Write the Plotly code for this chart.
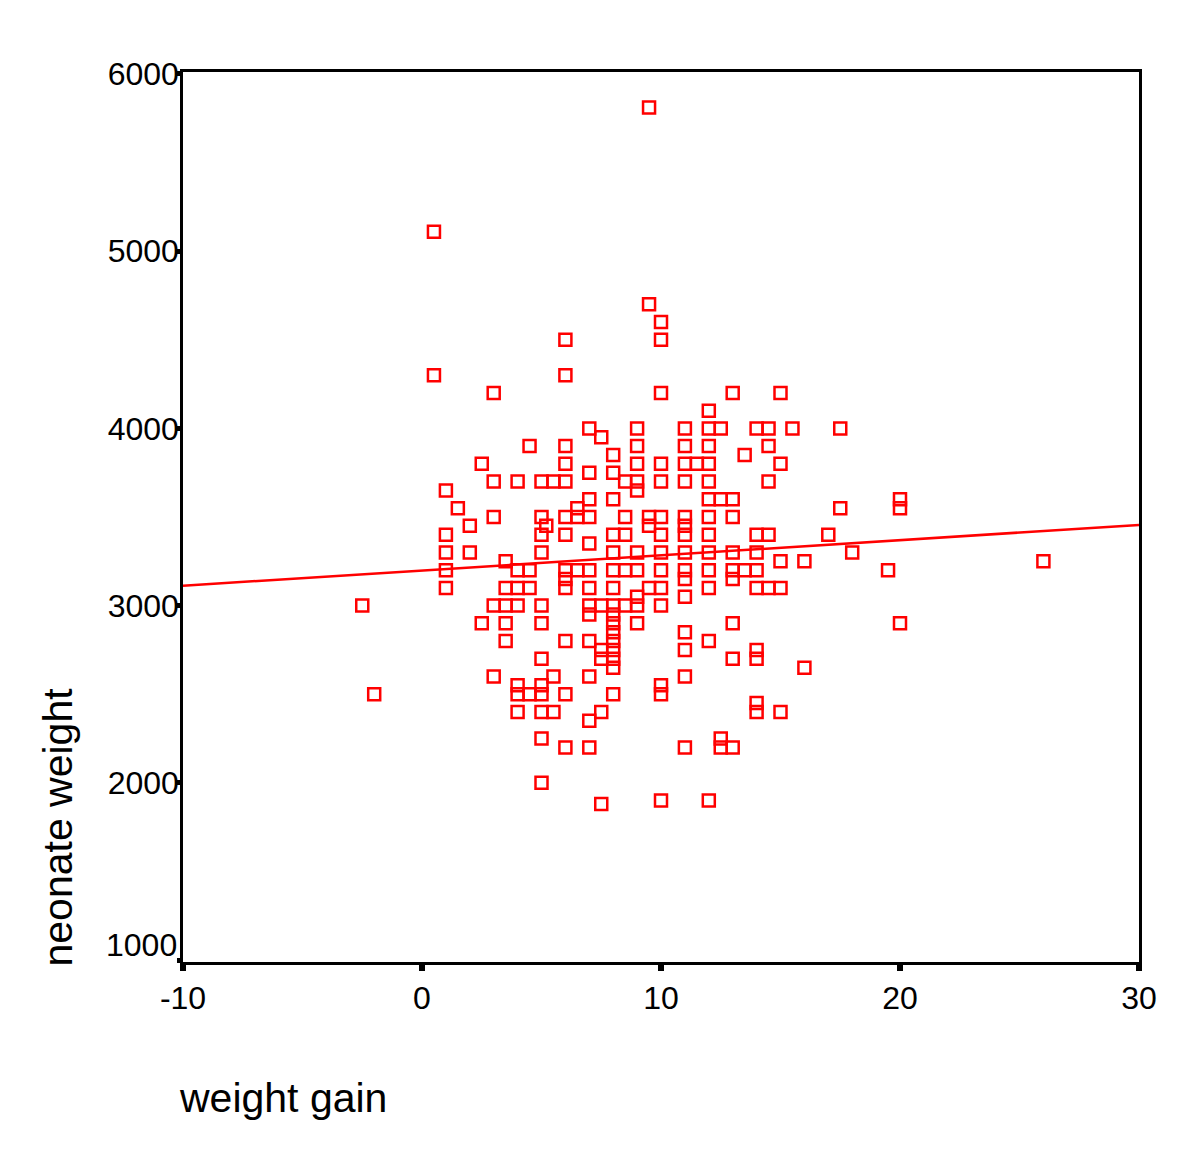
import plotly.graph_objects as go

# weight gain (x) and neonate weight (y)
weight_gain = (
    [-2.5, -2, 0.5, 0.5, 26]
    + [1] * 5 + [1.5] + [2] * 2 + [2.5] * 2
    + [3] * 5 + [3.5] * 5 + [4] * 7 + [4.5] * 4
    + [5] * 12 + [5.2] + [5.5] * 3
    + [6] * 13 + [6.5] * 3 + [7] * 13 + [7.5] * 6
    + [8] * 16 + [8.5] * 5 + [9] * 10 + [9.5] * 5
    + [10] * 14 + [11] * 15 + [11.5] + [12] * 13 + [12.5] * 4
    + [13] * 9 + [13.5] * 2 + [14] * 9 + [14.5] * 5 + [15] * 5
    + [15.5] + [16] * 2 + [17] + [17.5] * 2 + [18] + [19.5] + [20] * 3
)
neonate_weight = (
    [3000, 2500, 5110, 4300, 3250]
    + [3650, 3400, 3300, 3200, 3100] + [3550] + [3450, 3300] + [3800, 2900]
    + [4200, 3700, 3500, 3000, 2600]
    + [3250, 3100, 3000, 2900, 2800]
    + [3700, 3200, 3100, 3000, 2550, 2500, 2400]
    + [3900, 3200, 3100, 2500]
    + [3700, 3500, 3400, 3300, 3000, 2900, 2700, 2550, 2500, 2400, 2250, 2000]
    + [3450] + [3700, 2600, 2400]
    + [4500, 4300, 3900, 3800, 3700, 3500, 3400, 3200, 3150, 3100, 2800, 2500, 2200]
    + [3550, 3500, 3200]
    + [4000, 3750, 3600, 3500, 3350, 3200, 3100, 3000, 2950, 2800, 2600, 2350, 2200]
    + [3950, 3000, 2750, 2700, 2400, 1880]
    + [3850, 3750, 3600, 3400, 3300, 3200, 3100, 3000, 2950, 2900, 2850, 2800,
       2750, 2700, 2650, 2500]
    + [3700, 3500, 3400, 3200, 3000]
    + [4000, 3900, 3800, 3700, 3650, 3300, 3200, 3050, 3000, 2900]
    + [5810, 4700, 3500, 3450, 3100]
    + [4600, 4500, 4200, 3800, 3700, 3500, 3400, 3300, 3200, 3100, 3000, 2550, 2500, 1900]
    + [4000, 3900, 3800, 3700, 3500, 3450, 3400, 3300, 3200, 3150, 3050, 2850, 2750, 2600, 2200]
    + [3800]
    + [4100, 4000, 3900, 3800, 3700, 3600, 3500, 3400, 3300, 3200, 3100, 2800, 1900]
    + [4000, 3600, 2250, 2200]
    + [4200, 3600, 3500, 3300, 3200, 3150, 2900, 2700, 2200]
    + [3850, 3200]
    + [4000, 3400, 3300, 3200, 3100, 2750, 2700, 2450, 2400]
    + [4000, 3900, 3700, 3400, 3100]
    + [4200, 3800, 3250, 3100, 2400]
    + [4000] + [3250, 2650] + [3400] + [4000, 3550] + [3300] + [3200]
    + [3600, 3550, 2900]
)

# fitted regression line
fit_intercept = 3198
fit_slope = 8.575
fit_x = [-10, 30]
fit_y = [fit_intercept + fit_slope * v for v in fit_x]

x_ticks = [-10, 0, 10, 20, 30]
x_tick_labels = ["-10", "0", "10", "20", "30"]
y_ticks = [1000, 2000, 3000, 4000, 5000, 6000]
# the lowest label is drawn lifted off the corner (as in the reference)
y_tick_labels = ["", "2000", "3000", "4000", "5000", "6000"]
y_bottom_label = "1000"

RED = "#ff0000"
FONT = "Liberation Sans, Arial, sans-serif"
TICK_FONT = dict(family=FONT, size=32, color="black")

fig = go.Figure()
fig.add_trace(go.Scatter(
    x=weight_gain, y=neonate_weight, mode="markers",
    marker=dict(symbol="square-open", size=12, color=RED, line=dict(width=2.5, color=RED)),
    hoverinfo="x+y", showlegend=False,
))
fig.add_trace(go.Scatter(
    x=fit_x, y=fit_y, mode="lines",
    line=dict(color=RED, width=2.5), showlegend=False,
))

axis_common = dict(
    showgrid=False, zeroline=False, showline=True, linecolor="black",
    linewidth=2.5, mirror=True, ticks="outside", tickcolor="black",
    tickfont=TICK_FONT,
)
fig.update_xaxes(range=[-10, 30], tickvals=x_ticks, ticktext=x_tick_labels,
                 ticklen=6, tickwidth=6, **axis_common)
fig.update_yaxes(range=[989, 6011], tickvals=y_ticks, ticktext=y_tick_labels,
                 ticklen=3, tickwidth=5, ticklabelstandoff=-8, **axis_common)

fig.add_annotation(
    text=y_bottom_label, xref="paper", yref="y",
    x=0, y=y_ticks[0], xanchor="right", yanchor="middle",
    xshift=-4, yshift=15, showarrow=False, font=TICK_FONT,
)
fig.add_annotation(
    text="neonate weight", textangle=-90, xref="paper", yref="paper",
    x=0, y=0, xanchor="center", yanchor="bottom", xshift=-126, yshift=-7,
    showarrow=False, font=dict(family=FONT, size=41, color="black"),
)
fig.add_annotation(
    text="weight gain", xref="paper", yref="paper",
    x=0, y=0, xanchor="left", yanchor="middle", xshift=-6, yshift=-136,
    showarrow=False, font=dict(family=FONT, size=41, color="black"),
)

fig.update_layout(
    width=1200, height=1155,
    margin=dict(l=175, r=69, t=64, b=201),
    plot_bgcolor="white", paper_bgcolor="white",
    font=dict(family=FONT),
)

fig.write_html("out.html")
